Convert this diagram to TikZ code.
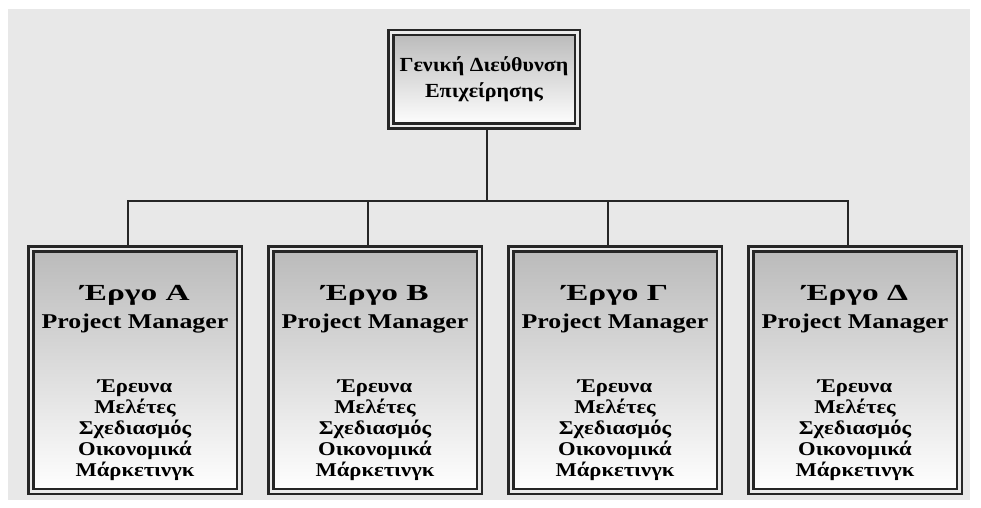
\documentclass[tikz,border=0pt]{standalone}
\usepackage{fontspec}
\setmainfont{Liberation Serif}[FakeStretch=1.1]
\newfontfamily\headfont{Liberation Serif}[FakeStretch=1.45]
\newfontfamily\pmfont{Liberation Serif}[FakeStretch=1.23]
\newfontfamily\listfont{Liberation Serif}[FakeStretch=1.16]

\newcommand{\tasklist}{Έρευνα\\Μελέτες\\Σχεδιασμός\\Οικονομικά\\Μάρκετινγκ}
\newcommand{\projhead}[1]{\rule{0pt}{41pt}{\headfont\fontsize{23}{23}\selectfont Έργο #1}\\[7pt]{\pmfont\fontsize{21}{21}\selectfont Project Manager}\\[43pt]}

\definecolor{bggray}{HTML}{E8E8E8}
\tikzset{
  orgbox/.style={rectangle, draw=black!85, double=white!92!black, double distance=2.5pt,
    line width=2.5pt, top color=black!27, bottom color=white, align=center, inner sep=0pt,
    font=\bfseries\fontsize{19}{21}\selectfont},
  projbox/.style={orgbox, minimum width=208.5pt, minimum height=242.5pt,
    font=\listfont\bfseries\fontsize{19.5}{21}\selectfont},
  conn/.style={draw=black!85, line width=1.6pt}
}

\begin{document}
\begin{tikzpicture}[x=1pt,y=1pt]
    % background
    \useasboundingbox (0,0) rectangle (981,507);
    \fill[bggray] (8,7) rectangle (970,498);

    % nodes
    \node at (484,427.5) [orgbox, minimum width=186.5pt, minimum height=93.5pt,
        font=\bfseries\fontsize{20}{26}\selectfont] (gd) {Γενική Διεύθυνση\\Επιχείρησης};
    \node at (135,137) [projbox] (pa) {\projhead{Α}\tasklist};
    \node at (375,137) [projbox] (pb) {\projhead{Β}\tasklist};
    \node at (615,137) [projbox] (pc) {\projhead{Γ}\tasklist};
    \node at (855,137) [projbox] (pd) {\projhead{Δ}\tasklist};
    \coordinate (bus) at (0,306);

    % paths
    \draw[conn] ([xshift=3pt]gd.south) -- ([xshift=3pt]gd.south |- bus); % GD -> bus
    \draw[conn] ([xshift=-7pt]pa.north) |- ([xshift=-7pt]pd.north |- bus) -- ([xshift=-7pt]pd.north); % A, D
    \draw[conn] ([xshift=-7pt]pb.north) -- ([xshift=-7pt]pb.north |- bus); % bus -> B
    \draw[conn] ([xshift=-7pt]pc.north) -- ([xshift=-7pt]pc.north |- bus); % bus -> C

\end{tikzpicture}
\end{document}
